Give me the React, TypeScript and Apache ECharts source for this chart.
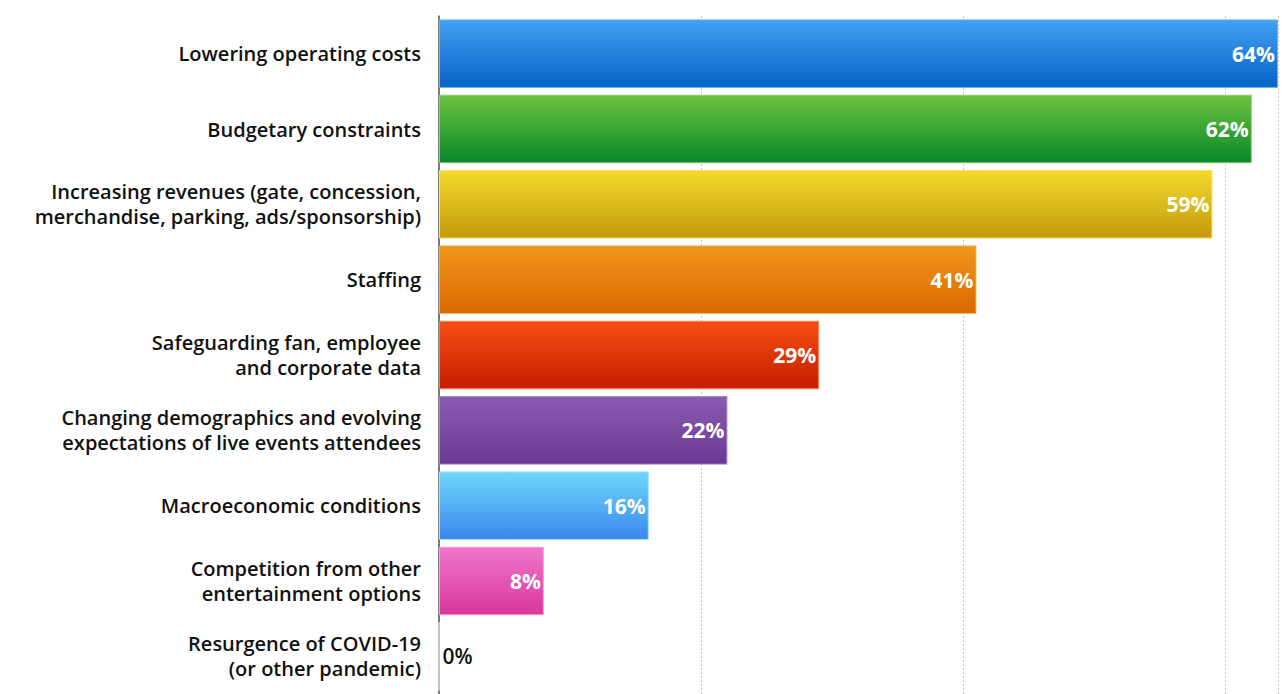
import React, { useEffect, useRef } from "react";
import * as echarts from "echarts";

const categories = [
  "Lowering operating costs",
  "Budgetary constraints",
  "Increasing revenues (gate, concession,\nmerchandise, parking, ads/sponsorship)",
  "Staffing",
  "Safeguarding fan, employee\nand corporate data",
  "Changing demographics and evolving\nexpectations of live events attendees",
  "Macroeconomic conditions",
  "Competition from other\nentertainment options",
  "Resurgence of COVID-19\n(or other pandemic)",
];
const values = [64, 62, 59, 41, 29, 22, 16, 8, 0];
const topColors = ["#43a0f2", "#6cc23e", "#f4da2c", "#f0961a", "#f64e12", "#8a5bb0", "#6ed9fa", "#f276cc", "#cccccc"];
const bottomColors = ["#0563c6", "#07882a", "#c39a0c", "#db6800", "#c61e00", "#6c3893", "#3a86ec", "#d8379a", "#aaaaaa"];
const borderColors = ["#6ab4f5", "#8ad06a", "#f7e36a", "#f4b060", "#f88060", "#a88ac4", "#9ae6fb", "#f5a0da", "#dddddd"];

const FONT = "'Open Sans', 'Noto Sans', sans-serif";

export default function App() {
  const ref = useRef<HTMLDivElement>(null);
  useEffect(() => {
    const chart = echarts.init(ref.current!, undefined, { renderer: "svg" });
    const data = values.map((v, i) => ({
      value: v,
      itemStyle: {
        color: new echarts.graphic.LinearGradient(0, 0, 0, 1, [
          { offset: 0, color: topColors[i] },
          { offset: 1, color: bottomColors[i] },
        ]),
        borderColor: borderColors[i],
        borderWidth: 1,
      },
      label:
        v === 0
          ? { position: "right", color: "#111", fontWeight: 600, distance: 3 }
          : undefined,
    }));
    chart.setOption({
      animation: false,
      grid: { left: 439, right: 4, top: 16, bottom: -5, containLabel: false },
      xAxis: {
        type: "value",
        min: 0,
        max: 64,
        interval: 20,
        axisLabel: { show: false },
        axisLine: { show: false },
        axisTick: { show: false },
        splitLine: { show: true, lineStyle: { color: "#c8c8c8", type: [2, 2], width: 1 } },
      },
      yAxis: {
        type: "category",
        inverse: true,
        data: categories,
        axisTick: { show: false },
        axisLine: { show: true, lineStyle: { color: "#555", width: 1.5 } },
        axisLabel: {
          color: "#111",
          fontFamily: FONT,
          fontSize: 20,
          fontWeight: 600,
          lineHeight: 25,
          margin: 18,
          align: "right",
        },
      },
      series: [
        {
          type: "bar",
          data,
          barCategoryGap: "9%",
          label: {
            show: true,
            position: "insideRight",
            formatter: "{c}%",
            color: "#fff",
            fontFamily: FONT,
            fontSize: 21,
            fontWeight: "bold",
            distance: 3,
          },
        },
      ],
    });
    return () => chart.dispose();
  }, []);
  return (
    <div
      ref={ref}
      style={{ position: "absolute", left: 0, top: 0, width: 1282, height: 694, background: "#fff" }}
    />
  );
}
